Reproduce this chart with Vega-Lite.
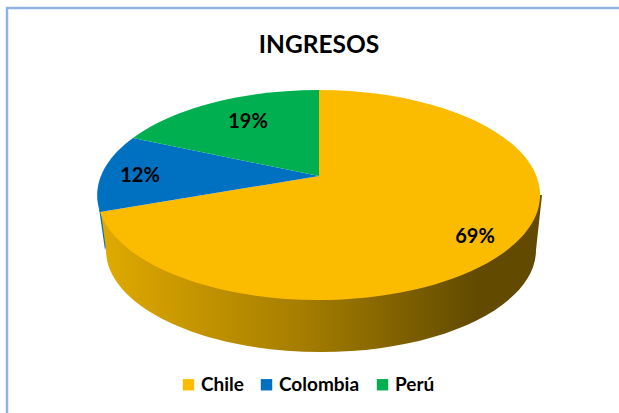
{
  "$schema": "https://vega.github.io/schema/vega-lite/v6.json",
  "width": 624,
  "height": 410,
  "autosize": {"type": "none"},
  "padding": {"left": 7, "top": 8, "right": 0, "bottom": 0},
  "background": "white",
  "view": {"stroke": "#8FB4E3", "strokeWidth": 2.5, "fill": "white"},
  "title": {"text": "INGRESOS", "font": "Lato", "fontSize": 24.5, "fontWeight": "bold", "color": "#000000", "anchor": "middle", "dy": 54},
  "data": {"values": [
    {"pais": "Chile", "valor": 0.69},
    {"pais": "Colombia", "valor": 0.12},
    {"pais": "Perú", "valor": 0.19}
  ]},
  "layer": [
    {
      "transform": [{"filter": "datum.pais === 'Colombia'"}],
      "mark": {"type": "point", "filled": true, "opacity": 1, "strokeWidth": 0, "size": 4, "fill": "#0070C0", "shape": "M-220,-5 L-214,37 L-212,30 L-218,-1 Z"}
    },
    {
      "transform": [{"filter": "datum.pais === 'Chile'"}],
      "mark": {"type": "point", "filled": true, "opacity": 1, "strokeWidth": 0, "size": 4,
        "fill": {"gradient": "linear", "x1": 0, "y1": 0, "x2": 1, "y2": 0, "stops": [
          {"offset": 0, "color": "#E0AA00"},
          {"offset": 0.45, "color": "#A67E00"},
          {"offset": 0.85, "color": "#624B00"},
          {"offset": 1, "color": "#624B00"}
        ]},
        "shape": "M-218,-1 L-213,37 A215,102 0 0 0 217,37 L223,-18 Z"}
    },
    {
      "mark": {"type": "point", "filled": true, "opacity": 1, "strokeWidth": 0, "size": 4},
      "encoding": {
        "fill": {
          "field": "pais", "type": "nominal",
          "scale": {"domain": ["Chile", "Colombia", "Perú"], "range": ["#FBBC00", "#0070C0", "#00B050"]},
          "legend": {
            "title": null, "orient": "none", "legendX": 172, "legendY": 367, "direction": "horizontal", "columns": 3,
            "symbolType": "square", "symbolSize": 130, "symbolStrokeWidth": 0, "symbolOpacity": 1,
            "labelFont": "Lato", "labelFontSize": 19, "labelFontWeight": "bold", "labelColor": "#000000", "columnPadding": 13, "labelOffset": 3, "padding": 0
          }
        },
        "shape": {
          "field": "valor", "type": "nominal", "legend": null,
          "scale": {"domain": [0.69, 0.12, 0.19], "range": [
            "M0,-37 L0,-123 A221.5,105 0 1 1 -219,-1 Z",
            "M0,-37 L-219,-1 A221.5,105 0 0 1 -186,-75 Z",
            "M0,-37 L-186,-75 A221.5,105 0 0 1 0,-123 Z"
          ]}
        }
      }
    },
    {
      "mark": {"type": "text", "font": "Lato", "fontSize": 20, "fontWeight": "bold", "color": "#000000", "align": "center", "baseline": "middle"},
      "encoding": {
        "x": {"field": "valor", "type": "quantitative", "axis": null, "scale": {"domain": [0.12, 0.19, 0.69], "range": [133, 241, 468]}},
        "y": {"field": "valor", "type": "quantitative", "axis": null, "scale": {"domain": [0.12, 0.19, 0.69], "range": [168, 114, 229]}},
        "text": {"field": "valor", "type": "quantitative", "format": ".0%"}
      }
    }
  ]
}
